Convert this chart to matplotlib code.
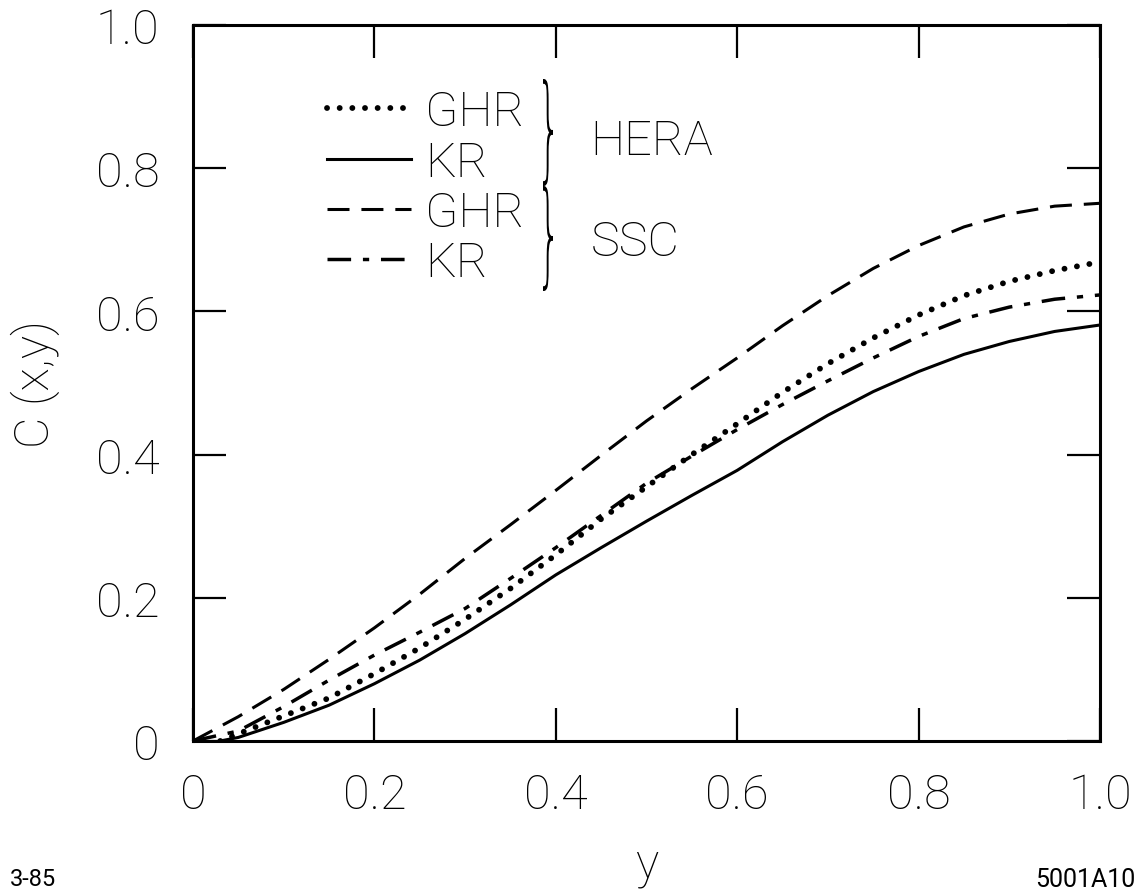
import matplotlib
matplotlib.use('Agg')
import matplotlib.pyplot as plt
from matplotlib.textpath import TextPath
from matplotlib.patches import PathPatch
from matplotlib.font_manager import FontProperties
from matplotlib.transforms import Affine2D

# ── data ──────────────────────────────────────────────────────────────────
y_grid = [0.0, 0.05, 0.1, 0.15, 0.2, 0.25, 0.3, 0.35, 0.4, 0.45, 0.5, 0.55,
          0.6, 0.65, 0.7, 0.75, 0.8, 0.85, 0.9, 0.95, 1.0]

ssc_ghr = [0.0, 0.034, 0.072, 0.114, 0.158, 0.205, 0.255, 0.302, 0.350, 0.399, 0.447,
           0.492, 0.535, 0.580, 0.622, 0.660, 0.692, 0.718, 0.736, 0.747, 0.751]
ssc_kr = [0.0, 0.014, 0.048, 0.085, 0.120, 0.152, 0.185, 0.227, 0.270, 0.315, 0.360,
          0.398, 0.435, 0.470, 0.503, 0.535, 0.565, 0.590, 0.606, 0.617, 0.623]

# HERA curves leave the axis a little to the right of the origin
hera_x = [0.03, 0.05, 0.1, 0.15, 0.2, 0.25, 0.3, 0.35, 0.4, 0.45, 0.5, 0.55,
          0.6, 0.65, 0.7, 0.75, 0.8, 0.85, 0.9, 0.95, 1.0]
hera_ghr = [0.0, 0.010, 0.035, 0.060, 0.094, 0.130, 0.170, 0.213, 0.260, 0.310, 0.355,
            0.400, 0.443, 0.487, 0.527, 0.563, 0.595, 0.622, 0.642, 0.657, 0.669]
hera_kr = [0.0, 0.005, 0.026, 0.050, 0.080, 0.113, 0.150, 0.190, 0.232, 0.270, 0.307,
           0.343, 0.378, 0.418, 0.455, 0.488, 0.516, 0.540, 0.558, 0.572, 0.581]

tick_vals = [0, 0.2, 0.4, 0.6, 0.8, 1.0]
tick_labels = ['0', '0.2', '0.4', '0.6', '0.8', '1.0']

FONT = 'Roboto'
FS = 35

plt.rcParams['font.family'] = [FONT, 'DejaVu Sans']

fig = plt.figure(figsize=(11.46, 8.95), dpi=100)
ax = fig.add_axes([193 / 1146, 1 - 742 / 895, 907 / 1146, 716 / 895])

ax.plot(hera_x, hera_ghr, color='black', lw=4.2,
        linestyle=(0, (0.01, 2.16)), dash_capstyle='round', label='GHR')
ax.plot(hera_x, hera_kr, color='black', lw=2.2, linestyle='-', label='KR')
ax.plot(y_grid, ssc_ghr, color='black', lw=2.2,
        linestyle=(0, (7.2, 3.9)), label='GHR')
ax.plot(y_grid, ssc_kr, color='black', lw=2.5,
        linestyle=(0, (6.8, 3.4, 1.8, 3.4)), label='KR')

ax.set_xlim(0, 1)
ax.set_ylim(0, 1)
ax.set_xticks(tick_vals)
ax.set_xticklabels(tick_labels)
ax.set_yticks(tick_vals)
ax.set_yticklabels(tick_labels)
ax.tick_params(direction='in', length=24, width=1.6, top=True, right=True,
               labelsize=FS)
ax.tick_params(axis='x', pad=22)
ax.tick_params(axis='y', pad=24)
for lab in ax.get_xticklabels() + ax.get_yticklabels():
    lab.set_fontweight('light')
for sp in ax.spines.values():
    sp.set_linewidth(2.2)

ax.set_xlabel('y', fontsize=FS, fontweight='light', labelpad=16)
ax.set_ylabel('C (x,y)', fontsize=FS, fontweight='light', labelpad=26)

leg = ax.legend(loc='upper left', bbox_to_anchor=(0.148, 0.911), frameon=False,
                fontsize=FS, handlelength=1.72, handletextpad=0.3,
                labelspacing=0.08, borderpad=0, borderaxespad=0)
for t in leg.get_texts():
    t.set_fontweight('light')

ax.text(0.438, 0.839, 'HERA', transform=ax.transAxes, fontsize=FS,
        fontweight='light', va='center', ha='left')
ax.text(0.438, 0.697, 'SSC', transform=ax.transAxes, fontsize=FS,
        fontweight='light', va='center', ha='left')

# thin tall braces built from the glyph outline
fp = FontProperties(family='DejaVu Sans', weight='light')
brace = TextPath((0, 0), '}', size=100, prop=fp)
bb = brace.get_extents()
for top_px, bot_px in [(80, 187), (187, 292)]:
    w = 10 / 1146
    h = (bot_px - top_px) / 895
    x0 = 543 / 1146
    y0 = 1 - bot_px / 895
    tr = (Affine2D().translate(-bb.x0, -bb.y0)
          .scale(w / bb.width, h / bb.height).translate(x0, y0))
    patch = PathPatch(tr.transform_path(brace), facecolor='black', lw=0,
                      transform=fig.transFigure)
    fig.patches.append(patch)

fig.text(10 / 1146, 1 - 880 / 895, '3-85', fontsize=17, va='center', ha='left')
fig.text(1135 / 1146, 1 - 880 / 895, '5001A10', fontsize=18, va='center', ha='right')

fig.savefig('out.png', dpi=100)
